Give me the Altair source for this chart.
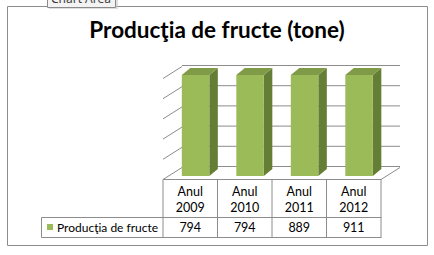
import altair as alt
import pandas as pd

# ---------------- data ----------------
title_text = "Producţia de fructe (tone)"
series_name = "Producţia de fructe"
row_header = "Anul"
year_labels = ["2009", "2010", "2011", "2012"]
values = [794, 794, 889, 911]
axis_max = 750          # hidden value-axis maximum (bars exceed it and are cut at the top)
grid_step = 150
tooltip_text = "Chart Area"

# ---------------- style ----------------
FONT = "Lato"
FRONT = "#9BBB59"
TOP = "#7F9B47"
SIDE = "#657E36"
GRID = "#8C8C8C"
BORDER = "#8C8C8C"
BAR_L, BAR_R = 0.345, 0.85          # front face position inside a category slot
X_RANGE = [163, 381]
Y_RANGE = [176, 75]
PX_PER_X = (X_RANGE[1] - X_RANGE[0]) / len(values)
PX_PER_Y = (Y_RANGE[0] - Y_RANGE[1]) / axis_max
DEPTH_X = 8.5 / PX_PER_X
DEPTH_Y = 7 / PX_PER_Y

n = len(values)
xs = alt.Scale(domain=[0, n], range=X_RANGE, nice=False, zero=False)
ys = alt.Scale(domain=[0, axis_max], range=Y_RANGE, nice=False, zero=False)

heights = [min(v, axis_max) for v in values]

front = pd.DataFrame({
    "idx": list(range(n)),
    "year": year_labels,
    "value": values,
    "h": heights,
    "base": [0] * n,
    "x0": [i + BAR_L for i in range(n)],
    "x1": [i + BAR_R for i in range(n)],
    "xc": [i + 0.5 for i in range(n)],
})

side_rows, top_rows = [], []
for i, h in enumerate(heights):
    side_rows.append({"idx": i, "x": i + BAR_R, "top": h, "bot": 0})
    side_rows.append({"idx": i, "x": i + BAR_R + DEPTH_X, "top": h + DEPTH_Y, "bot": DEPTH_Y})
    top_rows.append({"idx": i, "y": h, "xa": i + BAR_L, "xb": i + BAR_R})
    top_rows.append({"idx": i, "y": h + DEPTH_Y, "xa": i + BAR_L + DEPTH_X, "xb": i + BAR_R + DEPTH_X})
side = pd.DataFrame(side_rows)
topf = pd.DataFrame(top_rows)

levels = list(range(0, axis_max + 1, grid_step))
grid = pd.DataFrame({"level": levels, "gx0": [0] * len(levels), "gx1": [n] * len(levels)})
floor = grid[grid["level"] == 0]
cols = pd.DataFrame({"col": list(range(n + 1))})

one = alt.Data(values=[{}])

def X(f):
    return alt.X(f, type="quantitative", scale=xs, axis=None)

def Y(f):
    return alt.Y(f, type="quantitative", scale=ys, axis=None)

# ---------------- frame & title ----------------
frame = alt.Chart(one).mark_rect(fill="white", stroke=BORDER, strokeWidth=1).encode(
    x=alt.value(7.5), x2=alt.value(427.5), y=alt.value(6.5), y2=alt.value(245.5))

title = alt.Chart(one).mark_text(
    text=title_text, font=FONT, fontSize=22.5, fontWeight="bold", color="black",
    align="center", baseline="alphabetic").encode(x=alt.value(217), y=alt.value(38))

# ---------------- walls / floor ----------------
back_grid = alt.Chart(grid).mark_rule(color=GRID, strokeWidth=1, xOffset=19, x2Offset=19, yOffset=-9.5).encode(
    x=X("gx0"), x2="gx1", y=Y("level"))
wall_diag = alt.Chart(grid).mark_rule(color=GRID, strokeWidth=1, yOffset=3.5, x2Offset=19, y2Offset=-8.5).encode(
    x=X("gx0"), x2="gx0", y=Y("level"), y2="level")
floor_front = alt.Chart(floor).mark_rule(color=GRID, strokeWidth=1, yOffset=3.5).encode(
    x=X("gx0"), x2="gx1", y=Y("level"))
floor_right = alt.Chart(floor).mark_rule(color=GRID, strokeWidth=1, yOffset=3.5, x2Offset=19, y2Offset=-8.5).encode(
    x=X("gx1"), x2="gx1", y=Y("level"), y2="level")

# ---------------- bars ----------------
side_face = alt.Chart(side).mark_area(orient="vertical", color=SIDE).encode(
    x=X("x"), y=alt.Y("top:Q", scale=ys, axis=None, stack=None), y2="bot", detail="idx:N")
top_face = alt.Chart(topf).mark_area(orient="horizontal", color=TOP).encode(
    y=Y("y"), x=alt.X("xa:Q", scale=xs, axis=None, stack=None), x2="xb", detail="idx:N")
front_face = alt.Chart(front).mark_rect(color=FRONT).encode(
    x=X("x0"), x2="x1", y=Y("h"), y2="base")

# ---------------- data table ----------------
col_lines = alt.Chart(cols).mark_rule(color=BORDER, strokeWidth=1).encode(
    x=X("col"), y=alt.value(179.5), y2=alt.value(237.5))
row_mid = alt.Chart(one).mark_rule(color=BORDER, strokeWidth=1).encode(
    x=alt.value(41.5), x2=alt.value(381.5), y=alt.value(217.5))
row_bot = alt.Chart(one).mark_rule(color=BORDER, strokeWidth=1).encode(
    x=alt.value(41.5), x2=alt.value(381.5), y=alt.value(237.5))
row_left = alt.Chart(one).mark_rule(color=BORDER, strokeWidth=1).encode(
    x=alt.value(41.5), y=alt.value(217.5), y2=alt.value(237.5))

hdr1 = alt.Chart(front).mark_text(text=row_header, font=FONT, fontSize=12.5, color="black",
                                  baseline="middle").encode(x=X("xc"), y=alt.value(192))
hdr2 = alt.Chart(front).mark_text(font=FONT, fontSize=12.5, color="black",
                                  baseline="middle").encode(x=X("xc"), y=alt.value(208), text="year:N")
vals = alt.Chart(front).mark_text(font=FONT, fontSize=12.5, color="black",
                                  baseline="middle").encode(x=X("xc"), y=alt.value(227.5), text="value:Q")
leg_sq = alt.Chart(one).mark_rect(color=FRONT).encode(
    x=alt.value(47), x2=alt.value(53), y=alt.value(224), y2=alt.value(230))
leg_txt = alt.Chart(one).mark_text(text=series_name, font=FONT, fontSize=12, color="black",
                                   align="left", baseline="middle").encode(x=alt.value(57), y=alt.value(227.5))

# ---------------- "Chart Area" tooltip (cut off at the top edge, as in the reference) ----------------
tip_shadow = alt.Chart(one).mark_rect(fill="#C8C8C8", opacity=0.6).encode(
    x=alt.value(49), x2=alt.value(118), y=alt.value(-5), y2=alt.value(9))
tip_box = alt.Chart(one).mark_rect(fill="#F3F3F3", stroke="#8A8A8A", strokeWidth=1).encode(
    x=alt.value(47.5), x2=alt.value(115.5), y=alt.value(-5), y2=alt.value(7.5))
tip_txt = alt.Chart(one).mark_text(text=tooltip_text, font="Noto Sans", fontSize=12, color="#3C3C3C",
                                   align="center", baseline="alphabetic").encode(x=alt.value(81), y=alt.value(2.5))

chart = alt.layer(
    frame, title,
    back_grid, wall_diag, floor_front, floor_right,
    side_face, top_face, front_face,
    col_lines, row_mid, row_bot, row_left,
    hdr1, hdr2, vals, leg_sq, leg_txt,
    tip_shadow, tip_box, tip_txt,
).properties(
    width=434, height=255,
    autosize=alt.AutoSizeParams(type="none"),
    padding=0,
    background="white",
).configure_view(stroke=None)

chart.save("out.html", embed_options={"renderer": "svg", "actions": False})
